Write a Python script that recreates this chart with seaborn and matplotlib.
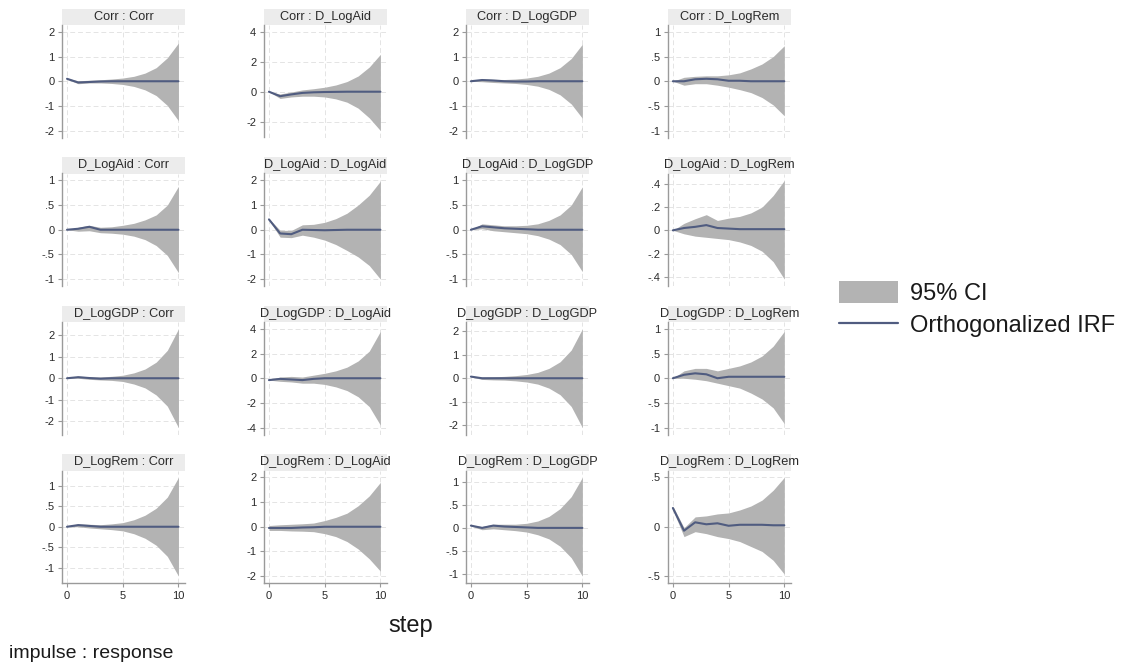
import numpy as np
import pandas as pd
import matplotlib
matplotlib.use("Agg")
import matplotlib.pyplot as plt
from matplotlib.patches import Rectangle, Patch
from matplotlib.lines import Line2D
import seaborn as sns

# ---------------- data ----------------
variables = ["Corr", "D_LogAid", "D_LogGDP", "D_LogRem"]
steps = [0, 1, 2, 3, 4, 5, 6, 7, 8, 9, 10]

# impulse = Corr  (rows: response Corr, D_LogAid, D_LogGDP, D_LogRem)
irf_corr = [
    [0.10, -0.05, -0.03, -0.01, 0.00, 0.00, 0.00, 0.00, 0.00, 0.00, 0.00],
    [0.00, -0.30, -0.18, -0.08, -0.04, -0.02, -0.01, 0.00, 0.00, 0.00, 0.00],
    [0.00, 0.05, 0.03, 0.00, -0.01, -0.01, 0.00, 0.00, 0.00, 0.00, 0.00],
    [0.00, 0.00, 0.04, 0.05, 0.04, 0.01, 0.01, 0.00, 0.00, 0.00, 0.00],
]
lo_corr = [
    [0.08, -0.10, -0.07, -0.07, -0.09, -0.13, -0.21, -0.35, -0.58, -0.98, -1.60],
    [0.00, -0.45, -0.35, -0.30, -0.30, -0.35, -0.48, -0.70, -1.10, -1.75, -2.60],
    [0.00, -0.02, -0.05, -0.07, -0.09, -0.13, -0.20, -0.33, -0.55, -0.92, -1.50],
    [0.00, -0.08, -0.05, -0.05, -0.08, -0.12, -0.17, -0.23, -0.33, -0.48, -0.70],
]
hi_corr = [
    [0.12, 0.02, 0.04, 0.06, 0.09, 0.13, 0.20, 0.33, 0.55, 0.95, 1.55],
    [0.00, -0.15, -0.02, 0.12, 0.20, 0.30, 0.45, 0.68, 1.05, 1.65, 2.50],
    [0.00, 0.10, 0.08, 0.07, 0.09, 0.13, 0.20, 0.33, 0.55, 0.92, 1.50],
    [0.00, 0.08, 0.10, 0.11, 0.11, 0.13, 0.17, 0.25, 0.35, 0.50, 0.72],
]

# impulse = D_LogAid
irf_aid = [
    [0.00, 0.02, 0.06, 0.00, 0.00, 0.00, 0.00, 0.00, 0.00, 0.00, 0.00],
    [0.42, -0.15, -0.18, 0.00, -0.01, -0.02, -0.01, 0.00, 0.00, 0.00, 0.00],
    [0.00, 0.07, 0.05, 0.03, 0.02, 0.01, 0.00, 0.00, 0.00, 0.00, 0.00],
    [0.00, 0.02, 0.03, 0.045, 0.02, 0.015, 0.01, 0.01, 0.01, 0.01, 0.01],
]
lo_aid = [
    [0.00, -0.03, -0.02, -0.06, -0.07, -0.09, -0.13, -0.20, -0.32, -0.52, -0.87],
    [0.40, -0.30, -0.32, -0.22, -0.30, -0.42, -0.60, -0.84, -1.10, -1.45, -2.00],
    [0.00, 0.02, -0.02, -0.04, -0.06, -0.08, -0.12, -0.19, -0.30, -0.50, -0.85],
    [0.00, -0.03, -0.05, -0.06, -0.07, -0.08, -0.10, -0.13, -0.18, -0.27, -0.42],
]
hi_aid = [
    [0.00, 0.05, 0.09, 0.05, 0.06, 0.09, 0.13, 0.20, 0.30, 0.50, 0.88],
    [0.45, -0.02, -0.03, 0.20, 0.22, 0.30, 0.45, 0.67, 1.00, 1.40, 1.97],
    [0.00, 0.12, 0.10, 0.08, 0.08, 0.09, 0.12, 0.19, 0.30, 0.50, 0.87],
    [0.00, 0.06, 0.10, 0.135, 0.085, 0.105, 0.12, 0.15, 0.20, 0.30, 0.43],
]

# impulse = D_LogGDP
irf_gdp = [
    [0.00, 0.05, 0.01, -0.02, 0.00, 0.00, 0.00, 0.00, 0.00, 0.00, 0.00],
    [-0.15, -0.05, -0.10, -0.15, -0.05, 0.00, 0.00, 0.00, 0.00, 0.00, 0.00],
    [0.07, 0.00, 0.00, 0.00, 0.00, 0.00, 0.00, 0.00, 0.00, 0.00, 0.00],
    [0.00, 0.07, 0.10, 0.08, 0.00, 0.03, 0.03, 0.03, 0.03, 0.03, 0.03],
]
lo_gdp = [
    [0.00, 0.00, -0.05, -0.08, -0.10, -0.15, -0.27, -0.45, -0.78, -1.30, -2.30],
    [-0.15, -0.25, -0.30, -0.40, -0.40, -0.50, -0.70, -1.00, -1.50, -2.30, -3.80],
    [0.06, -0.05, -0.07, -0.08, -0.11, -0.16, -0.25, -0.42, -0.70, -1.20, -2.10],
    [0.00, 0.00, -0.02, -0.05, -0.10, -0.15, -0.20, -0.30, -0.42, -0.60, -0.92],
]
hi_gdp = [
    [0.00, 0.10, 0.07, 0.06, 0.09, 0.14, 0.25, 0.43, 0.75, 1.30, 2.30],
    [-0.15, 0.10, 0.15, 0.10, 0.25, 0.40, 0.60, 0.90, 1.40, 2.20, 3.80],
    [0.08, 0.05, 0.06, 0.08, 0.11, 0.16, 0.25, 0.42, 0.70, 1.20, 2.10],
    [0.00, 0.15, 0.20, 0.20, 0.15, 0.20, 0.25, 0.33, 0.45, 0.65, 0.95],
]

# impulse = D_LogRem
irf_rem = [
    [0.00, 0.04, 0.02, 0.00, 0.00, 0.00, 0.00, 0.00, 0.00, 0.00, 0.00],
    [-0.05, -0.05, -0.05, -0.03, -0.02, 0.00, 0.00, 0.00, 0.00, 0.00, 0.00],
    [0.05, 0.00, 0.05, 0.03, 0.02, 0.01, 0.00, 0.00, 0.00, 0.00, 0.00],
    [0.19, -0.04, 0.045, 0.025, 0.035, 0.01, 0.02, 0.02, 0.02, 0.015, 0.015],
]
lo_rem = [
    [0.00, 0.00, -0.03, -0.05, -0.07, -0.10, -0.17, -0.28, -0.45, -0.72, -1.20],
    [-0.15, -0.15, -0.17, -0.18, -0.20, -0.28, -0.40, -0.60, -0.90, -1.30, -1.80],
    [0.04, -0.04, -0.02, -0.04, -0.06, -0.09, -0.15, -0.24, -0.40, -0.65, -1.05],
    [0.17, -0.10, -0.05, -0.07, -0.10, -0.12, -0.15, -0.20, -0.25, -0.34, -0.48],
]
hi_rem = [
    [0.00, 0.07, 0.06, 0.05, 0.07, 0.10, 0.17, 0.28, 0.45, 0.72, 1.20],
    [0.05, 0.08, 0.10, 0.12, 0.15, 0.25, 0.38, 0.55, 0.85, 1.25, 1.80],
    [0.06, 0.03, 0.08, 0.08, 0.08, 0.10, 0.15, 0.25, 0.42, 0.68, 1.10],
    [0.21, -0.01, 0.10, 0.11, 0.13, 0.14, 0.17, 0.21, 0.27, 0.37, 0.50],
]

# y-axis tick values per panel (rows = impulse, cols = response)
yticks_corr = [[-2, -1, 0, 1, 2], [-2, 0, 2, 4], [-2, -1, 0, 1, 2], [-1, -0.5, 0, 0.5, 1]]
yticks_aid = [[-1, -0.5, 0, 0.5, 1], [-2, -1, 0, 1, 2], [-1, -0.5, 0, 0.5, 1], [-0.4, -0.2, 0, 0.2, 0.4]]
yticks_gdp = [[-2, -1, 0, 1, 2], [-4, -2, 0, 2, 4], [-2, -1, 0, 1, 2], [-1, -0.5, 0, 0.5, 1]]
yticks_rem = [[-1, -0.5, 0, 0.5, 1], [-2, -1, 0, 1, 2], [-1, -0.5, 0, 0.5, 1], [-0.5, 0, 0.5]]
xticks = [0, 5, 10]

legend_labels = ["95% CI", "Orthogonalized IRF"]
xlabel_text = "step"
note_text = "impulse : response"

# ---------------- assemble ----------------
IRF = [irf_corr, irf_aid, irf_gdp, irf_rem]
LO = [lo_corr, lo_aid, lo_gdp, lo_rem]
HI = [hi_corr, hi_aid, hi_gdp, hi_rem]
YT = [yticks_corr, yticks_aid, yticks_gdp, yticks_rem]

rows = []
for i, imp in enumerate(variables):
    for j, resp in enumerate(variables):
        for k, s in enumerate(steps):
            rows.append(dict(impulse=imp, response=resp, step=s,
                             irf=IRF[i][j][k], lo=LO[i][j][k], hi=HI[i][j][k]))
df = pd.DataFrame(rows)

# ---------------- style ----------------
sns.set_style("white")
plt.rcParams["font.family"] = ["Liberation Sans", "DejaVu Sans"]

FILL = "#b3b3b3"
LINE = "#505c80"
GRID = "#e4e4e4"
STRIP = "#ececec"
AXC = "#9a9a9a"
TXT = "#2a2a2a"

fig, axes = plt.subplots(4, 4, figsize=(11.36, 6.70), dpi=100)
fig.subplots_adjust(left=62 / 1136, right=791 / 1136, top=1 - 25 / 670,
                    bottom=1 - 583 / 670, wspace=0.64, hspace=0.32)


def fmt(v):
    if float(v).is_integer():
        return str(int(v))
    s = ("%g" % v)
    return s.replace("0.", ".")


for i, imp in enumerate(variables):
    for j, resp in enumerate(variables):
        ax = axes[i, j]
        sub = df[(df.impulse == imp) & (df.response == resp)]
        ax.fill_between(sub["step"], sub["lo"], sub["hi"], color=FILL, lw=0, zorder=2)
        sns.lineplot(data=sub, x="step", y="irf", ax=ax, color=LINE, lw=1.5, zorder=3)
        ticks = YT[i][j]
        ymin = min(ticks[0], sub["lo"].min())
        ymax = max(ticks[-1], sub["hi"].max())
        pad = 0.07 * (ymax - ymin)
        ax.set_ylim(ymin - pad, ymax + pad)
        ax.set_xlim(-0.45, 10.6)
        ax.set_yticks(ticks)
        ax.set_yticklabels([fmt(t) for t in ticks])
        ax.set_xticks(xticks)
        ax.grid(True, color=GRID, lw=0.7, ls=(0, (5, 3)), zorder=0)
        ax.set_axisbelow(True)
        ax.set_xlabel("")
        ax.set_ylabel("")
        for sp in ["top", "right"]:
            ax.spines[sp].set_visible(False)
        ax.spines["left"].set_color(AXC)
        ax.spines["left"].set_linewidth(1.0)
        ax.tick_params(axis="y", length=3, width=0.8, color=AXC, labelsize=8,
                       labelcolor=TXT, pad=2.5, left=True)
        if i == 3:
            ax.spines["bottom"].set_color(AXC)
            ax.spines["bottom"].set_linewidth(1.0)
            ax.tick_params(axis="x", length=3, width=0.8, color=AXC, labelsize=8,
                           labelcolor=TXT, pad=3, bottom=True)
        else:
            ax.spines["bottom"].set_visible(False)
            ax.tick_params(axis="x", length=0, labelbottom=False)
        # title strip
        strip_h = 0.145
        ax.add_patch(Rectangle((0, 1.0), 1, strip_h, transform=ax.transAxes,
                               facecolor=STRIP, edgecolor="none", clip_on=False, zorder=1))
        ax.text(0.5, 1.0 + strip_h / 2, f"{imp} : {resp}", transform=ax.transAxes,
                ha="center", va="center", fontsize=9.2, color=TXT)

fig.text(411 / 1136, 1 - 626 / 670, xlabel_text, ha="center", va="center",
         fontsize=17, color="#1a1a1a")
fig.text(9 / 1136, 1 - 653 / 670, note_text, ha="left", va="center",
         fontsize=14, color="#1a1a1a")

handles = [Patch(facecolor=FILL, edgecolor="none"),
           Line2D([0], [0], color=LINE, lw=1.6)]
fig.legend(handles, legend_labels, loc="center left",
           bbox_to_anchor=(818 / 1136, 1 - 309 / 670), frameon=False,
           fontsize=17, handlelength=2.5, handleheight=1.05, handletextpad=0.5,
           labelspacing=0.35, labelcolor="#1a1a1a")

fig.savefig("out.png", dpi=100, facecolor="white")
